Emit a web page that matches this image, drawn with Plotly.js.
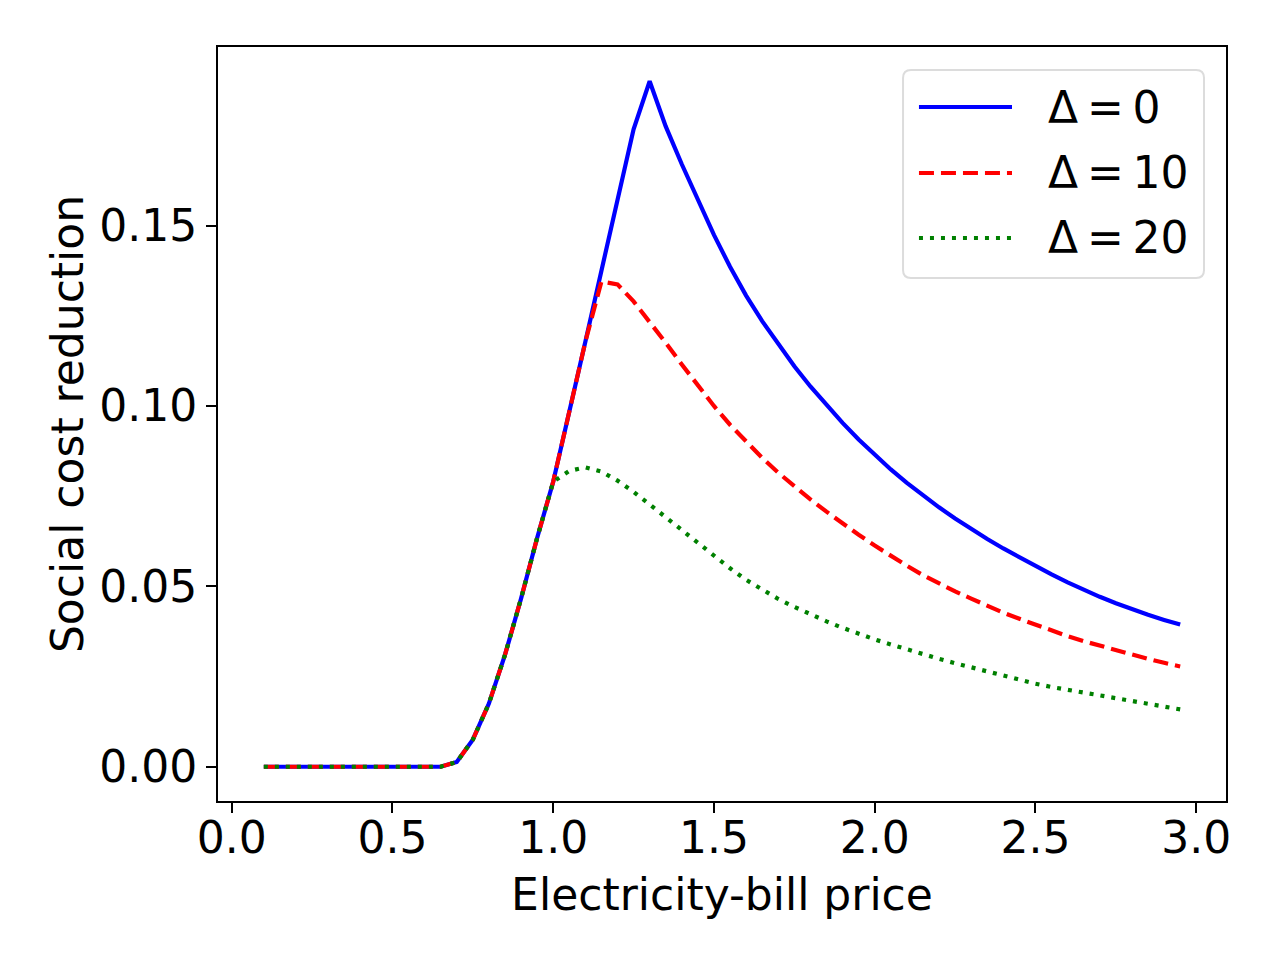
<!DOCTYPE html>
<html>
<head>
<meta charset="utf-8">
<script src="https://cdn.plot.ly/plotly-3.0.1.min.js"></script>
<style>
  html, body { margin: 0; padding: 0; background: #ffffff; }
  #grafica { width: 1280px; height: 960px; }
</style>
</head>
<body>
<div id="grafica"></div>
<script>
// Electricity-bill price (x axis)
const precio = [
  0.10, 0.15, 0.20, 0.25, 0.30, 0.35, 0.40, 0.45, 0.50, 0.55,
  0.60, 0.65, 0.70, 0.75, 0.80, 0.85, 0.90, 0.95, 1.00, 1.05,
  1.10, 1.15, 1.20, 1.25, 1.30, 1.35, 1.40, 1.45, 1.50, 1.55,
  1.60, 1.65, 1.70, 1.75, 1.80, 1.85, 1.90, 1.95, 2.00, 2.05,
  2.10, 2.15, 2.20, 2.25, 2.30, 2.35, 2.40, 2.45, 2.50, 2.55,
  2.60, 2.65, 2.70, 2.75, 2.80, 2.85, 2.90, 2.95
];

// Social cost reduction, Delta = 0
const reduccionD0 = [
  0, 0, 0, 0, 0, 0, 0, 0, 0, 0,
  0, 0, 0.0013, 0.0075, 0.0175, 0.0310, 0.0466, 0.0634, 0.0790, 0.0980,
  0.1178, 0.1375, 0.1570, 0.1767, 0.1900, 0.1775, 0.1670, 0.1569, 0.1474, 0.1386,
  0.1306, 0.1235, 0.1170, 0.1110, 0.1054, 0.1002, 0.0953, 0.0907, 0.0864, 0.0824,
  0.0787, 0.0752, 0.0719, 0.0688, 0.0659, 0.0631, 0.0605, 0.0580, 0.0556, 0.0533,
  0.0511, 0.0490, 0.0471, 0.0453, 0.0436, 0.0421, 0.0407, 0.0394
];

// Social cost reduction, Delta = 10
const reduccionD10 = [
  0, 0, 0, 0, 0, 0, 0, 0, 0, 0,
  0, 0, 0.0013, 0.0075, 0.0175, 0.0310, 0.0466, 0.0634, 0.0790, 0.0980,
  0.1178, 0.1345, 0.1337, 0.1290, 0.1234, 0.1175, 0.1115, 0.1056, 0.1000, 0.0948,
  0.0900, 0.0856, 0.0815, 0.0777, 0.0741, 0.0707, 0.0674, 0.0643, 0.0613, 0.0584,
  0.0557, 0.0531, 0.0508, 0.0486, 0.0466, 0.0446, 0.0427, 0.0410, 0.0393, 0.0377,
  0.0362, 0.0348, 0.0335, 0.0322, 0.0310, 0.0299, 0.0288, 0.0278
];

// Social cost reduction, Delta = 20
const reduccionD20 = [
  0, 0, 0, 0, 0, 0, 0, 0, 0, 0,
  0, 0, 0.0013, 0.0075, 0.0175, 0.0310, 0.0466, 0.0634, 0.0790, 0.0820,
  0.0830, 0.0818, 0.0793, 0.0762, 0.0727, 0.0691, 0.0655, 0.0620, 0.0584, 0.0550,
  0.0518, 0.0490, 0.0465, 0.0443, 0.0422, 0.0403, 0.0385, 0.0368, 0.0353, 0.0339,
  0.0325, 0.0312, 0.0299, 0.0287, 0.0275, 0.0263, 0.0251, 0.0240, 0.0230, 0.0221,
  0.0213, 0.0205, 0.0198, 0.0190, 0.0183, 0.0175, 0.0167, 0.0159
];

const etiquetas = ['Δ\u2009=\u20090', 'Δ\u2009=\u200910', 'Δ\u2009=\u200920'];
const colores = ['#0000ff', '#ff0000', '#008000'];
const trazos = ['solid', '15px,7px', '4px,7px'];
const series = [reduccionD0, reduccionD10, reduccionD20];

const FUENTE = 'DejaVu Sans, sans-serif';
const TAM = 44;

const trazas = series.map((y, i) => ({
  x: precio,
  y: y,
  type: 'scatter',
  mode: 'lines',
  name: etiquetas[i],
  line: { color: colores[i], width: 4.2, dash: trazos[i] },
  showlegend: false
}));

// legend drawn by hand so the sample lines have matplotlib's length
const filasLeyenda = [0.9204, 0.8329, 0.7467];
const formas = [{
  type: 'path',
  xref: 'paper', yref: 'paper',
  path: 'M0.6875,0.9695 L0.9703,0.9695 Q0.9782,0.9695 0.9782,0.9589 ' +
        'L0.9782,0.7042 Q0.9782,0.6936 0.9703,0.6936 L0.6875,0.6936 ' +
        'Q0.6796,0.6936 0.6796,0.7042 L0.6796,0.9589 Q0.6796,0.9695 0.6875,0.9695 Z',
  line: { color: '#dcdcdc', width: 2 },
  fillcolor: 'rgba(255,255,255,0.8)'
}];
const notas = [];
filasLeyenda.forEach((yy, i) => {
  formas.push({
    type: 'line', xref: 'paper', yref: 'paper',
    x0: 0.6954, x1: 0.7877, y0: yy, y1: yy,
    line: { color: colores[i], width: 4.2, dash: trazos[i] }
  });
  notas.push({
    xref: 'paper', yref: 'paper',
    x: 0.8214, y: yy, xanchor: 'left', yanchor: 'middle',
    text: etiquetas[i], showarrow: false,
    font: { family: FUENTE, size: TAM, color: '#000000' }
  });
});

const ejeComun = {
  showline: true,
  linecolor: '#000000',
  linewidth: 2,
  mirror: true,
  showgrid: false,
  zeroline: false,
  ticks: 'outside',
  ticklen: 10,
  tickwidth: 2,
  tickcolor: '#000000',
  tickfont: { family: FUENTE, size: TAM, color: '#000000' },
  automargin: false
};

const layout = {
  width: 1280,
  height: 960,
  paper_bgcolor: '#ffffff',
  plot_bgcolor: '#ffffff',
  font: { family: FUENTE, color: '#000000' },
  margin: { l: 218, r: 54, t: 47, b: 159 },
  xaxis: Object.assign({}, ejeComun, {
    range: [-0.0425, 3.0925],
    tickmode: 'linear',
    tick0: 0,
    dtick: 0.5,
    tickformat: '.1f',
    ticklabelstandoff: -13,
    title: { text: 'Electricity-bill price', standoff: 17, font: { family: FUENTE, size: TAM, color: '#000000' } }
  }),
  yaxis: Object.assign({}, ejeComun, {
    range: [-0.0095, 0.1995],
    tickmode: 'linear',
    tick0: 0,
    dtick: 0.05,
    tickformat: '.2f',
    title: { text: 'Social cost reduction', standoff: 2, font: { family: FUENTE, size: TAM, color: '#000000' } }
  }),
  shapes: formas,
  annotations: notas
};

Plotly.newPlot('grafica', trazas, layout, { displayModeBar: false, staticPlot: true });
</script>
</body>
</html>
